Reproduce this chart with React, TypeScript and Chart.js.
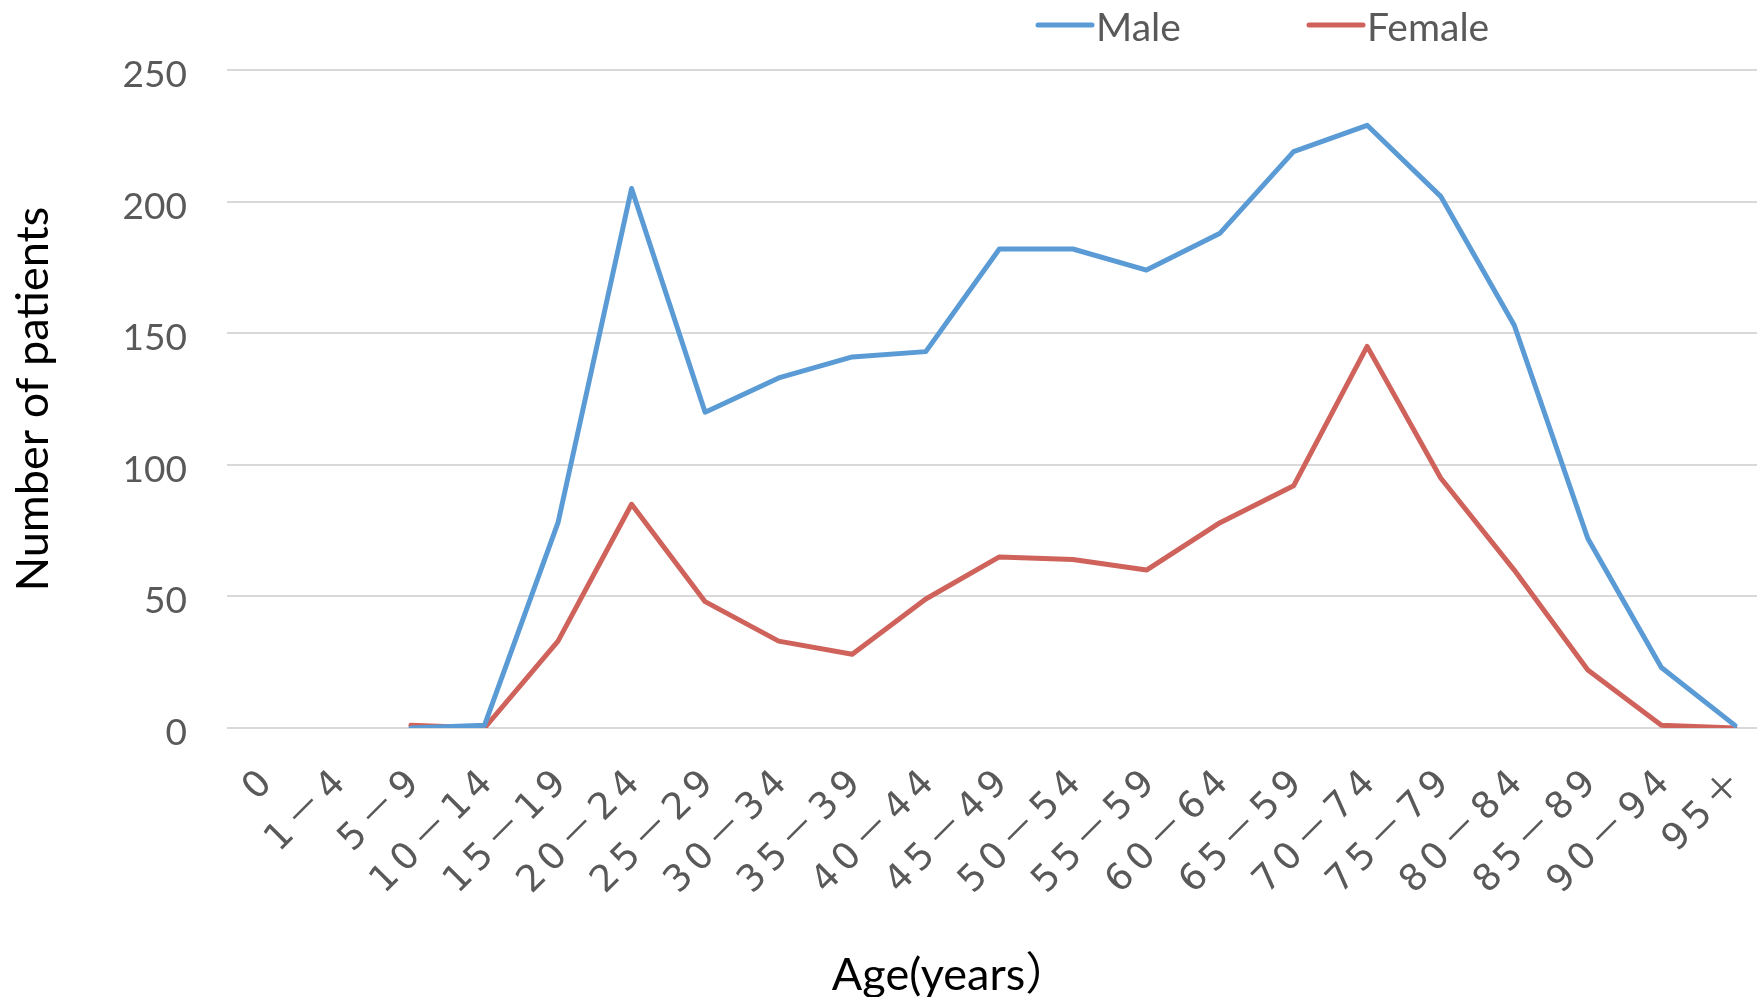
import React, { useEffect, useRef } from "react";
import { Chart, registerables } from "chart.js";

Chart.register(...registerables);

const ageGroups = [
  "0", "1－4", "5－9", "10－14", "15－19", "20－24", "25－29",
  "30－34", "35－39", "40－44", "45－49", "50－54", "55－59",
  "60－64", "65－59", "70－74", "75－79", "80－84", "85－89",
  "90－94", "95＋",
];
const maleCounts = [null, null, 0, 1, 78, 205, 120, 133, 141, 143, 182, 182, 174, 188, 219, 229, 202, 153, 72, 23, 1];
const femaleCounts = [null, null, 1, 0, 33, 85, 48, 33, 28, 49, 65, 64, 60, 78, 92, 145, 95, 60, 22, 1, 0];
const yTickValues = [0, 50, 100, 150, 200, 250];
const seriesNames = ["Male", "Female"];
const seriesColors = ["#5B9BD5", "#CF625B"];
const xTitle = "Age(years）";
const yTitle = "Number of patients";

const legendStartX = [1038, 1309];
const xTitleCenterX = 951;
const xLabelSpacing = "6px";

const customLegend = {
  id: "customLegend",
  beforeDraw(chart: any) {
    const s = chart.scales.x;
    if (s && !s.__spaced) {
      const orig = s.drawLabels.bind(s);
      s.drawLabels = (area: any) => {
        const ctx = s.ctx;
        ctx.save();
        (ctx as any).letterSpacing = xLabelSpacing;
        orig(area);
        ctx.restore();
      };
      s.__spaced = true;
    }
  },
  afterDraw(chart: any) {
    const ctx = chart.ctx;
    ctx.save();
    chart.data.datasets.forEach((ds: any, i: number) => {
      const x0 = legendStartX[i];
      ctx.strokeStyle = ds.borderColor;
      ctx.lineWidth = 5;
      ctx.lineCap = "round";
      ctx.beginPath();
      ctx.moveTo(x0, 25);
      ctx.lineTo(x0 + 54, 25);
      ctx.stroke();
      ctx.fillStyle = "#595959";
      ctx.font = "39px Lato, 'Noto Sans'";
      ctx.textAlign = "left";
      ctx.textBaseline = "alphabetic";
      ctx.fillText(ds.label, x0 + 58, 41);
    });
    // x-axis title
    ctx.fillStyle = "#000000";
    ctx.font = "45px Lato, 'Noto Sans CJK SC'";
    ctx.textAlign = "center";
    ctx.textBaseline = "alphabetic";
    ctx.fillText(xTitle, xTitleCenterX, 990);
    ctx.restore();
  },
};

export default function App() {
  const canvasRef = useRef<HTMLCanvasElement | null>(null);

  useEffect(() => {
    if (!canvasRef.current) return;
    const labelIndex = ageGroups.map((_, i) => i);
    const toPoints = (arr: (number | null)[]) =>
      arr.map((v, i) => ({ x: labelIndex[i], y: v }));

    const chart = new Chart(canvasRef.current, {
      type: "line",
      data: {
        datasets: [
          {
            label: seriesNames[0],
            data: toPoints(maleCounts) as any,
            borderColor: seriesColors[0],
            backgroundColor: seriesColors[0],
            borderWidth: 5,
            pointRadius: 0,
            borderJoinStyle: "round",
            borderCapStyle: "round",
            tension: 0,
          },
          {
            label: seriesNames[1],
            data: toPoints(femaleCounts) as any,
            borderColor: seriesColors[1],
            backgroundColor: seriesColors[1],
            borderWidth: 5,
            pointRadius: 0,
            borderJoinStyle: "round",
            borderCapStyle: "round",
            tension: 0,
          },
        ],
      },
      options: {
        animation: false,
        responsive: true,
        maintainAspectRatio: false,
        layout: { padding: { top: 70, right: 0, bottom: 0, left: 0 } },
        plugins: {
          legend: { display: false },
          tooltip: { enabled: false },
        },
        scales: {
          x: {
            type: "linear",
            min: -0.5,
            max: 20.3,
            grid: { display: false, drawTicks: false },
            border: { display: false },
            afterBuildTicks: (scale: any) => {
              scale.ticks = labelIndex.map((v) => ({ value: v }));
            },
            afterFit: (scale: any) => {
              scale.height = 269;
              scale.paddingLeft = 0;
              scale.paddingRight = 0;
            },
            ticks: {
              autoSkip: false,
              minRotation: 45,
              maxRotation: 45,
              padding: 30,
              labelOffset: 7,
              color: "#595959",
              font: { family: "'DejaVu Sans', 'Noto Sans CJK SC'", size: 37 },
              callback: (value: any) => ageGroups[value] ?? "",
            },
            title: { display: false },
          },
          y: {
            min: 0,
            max: 250,
            afterBuildTicks: (scale: any) => {
              scale.ticks = yTickValues.map((v) => ({ value: v }));
            },
            afterFit: (scale: any) => {
              scale.width = 227;
            },
            grid: { color: "#D9D9D9", lineWidth: 2, drawTicks: false },
            border: { display: false },
            ticks: {
              padding: 40,
              labelOffset: 5,
              color: "#595959",
              font: { family: "Lato", size: 37 },
            },
            title: {
              display: true,
              text: yTitle,
              color: "#000000",
              font: { family: "Lato", size: 45 },
              padding: { top: 6, bottom: 0 },
            },
          },
        },
      },
      plugins: [customLegend],
    });
    return () => chart.destroy();
  }, []);

  return (
    <div style={{ position: "absolute", left: 0, top: 0, width: 1757, height: 997 }}>
      <canvas ref={canvasRef} />
    </div>
  );
}
